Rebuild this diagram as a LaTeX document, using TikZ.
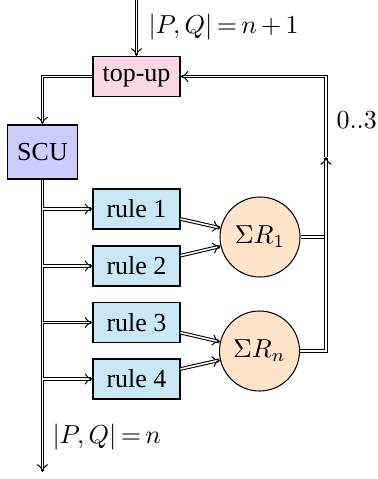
\documentclass[tikz,border=0pt]{standalone}
\usepackage[no-math]{fontspec}
\setmainfont{Liberation Serif}
\usetikzlibrary{arrows.meta}
\definecolor{pinkfill}{RGB}{249,215,230}
\definecolor{scufill}{RGB}{204,204,255}
\definecolor{rulefill}{RGB}{200,232,248}
\definecolor{sumfill}{RGB}{255,228,202}
\tikzset{
  box/.style={draw, rectangle, inner sep=0pt, minimum width=33.5pt, minimum height=15.4pt},
  topbox/.style={box, fill=pinkfill},
  scubox/.style={draw, rectangle, inner sep=0pt, minimum width=26.6pt, minimum height=20.8pt, fill=scufill},
  rulebox/.style={box, fill=rulefill},
  sumnode/.style={draw, circle, inner sep=0pt, minimum size=30.8pt, fill=sumfill},
  dbl/.style={double, double distance=0.6pt, line width=0.4pt},
  lbl/.style={inner sep=0pt},
  >={To[length=3pt, width=4.2pt]}
}
\begin{document}
\begin{tikzpicture}[x=0.385pt, y=-0.385pt]
\useasboundingbox (0,0) rectangle (377,479);
\node[topbox] (top) at (136.5,76.5) {top-up};
\node[scubox] (scu) at (42.5,152) {SCU};
\node[rulebox] (r1) at (136.5,209) {rule 1};
\node[rulebox] (r2) at (136.5,266) {rule 2};
\node[rulebox] (r3) at (136.5,322.5) {rule 3};
\node[rulebox] (r4) at (136.5,379) {rule 4};
\node[sumnode] (s1) at (260,237) {$\Sigma R_1$};
\node[sumnode] (sn) at (259.5,351) {$\Sigma R_n$};
\coordinate (tin) at (136.5,0);
\coordinate (bot) at (42.5,472);
\coordinate (m) at (326,157);
% labels
\node[lbl, anchor=west] (ltop) at (148,27) {$|P,Q|\,{=}\,n\,{+}\,1$};
\node[lbl, anchor=west] (lbot) at (52,437) {$|P,Q|\,{=}\,n$};
\node[lbl, anchor=west] (lcnt) at (336,120) {$0..3$};
% connectors
\draw[dbl,->] (tin) -- (top.north);
\draw[dbl,->] (top.west) -| (scu.north);
\draw[dbl,->] (scu.south) -- (bot);
\foreach \r in {r1,r2,r3,r4}{
  \draw[dbl,->] (scu.south |- \r.west) -- (\r.west);
}
\draw[dbl,->] (r1) -- (s1);
\draw[dbl,->] (r2) -- (s1);
\draw[dbl,->] (r3) -- (sn);
\draw[dbl,->] (r4) -- (sn);
\draw[dbl] (s1.east) -- (s1 -| m);
\draw[dbl,->] (sn.east) -| (m);
\draw[dbl,->] (m) |- (top.east);
\end{tikzpicture}
\end{document}
